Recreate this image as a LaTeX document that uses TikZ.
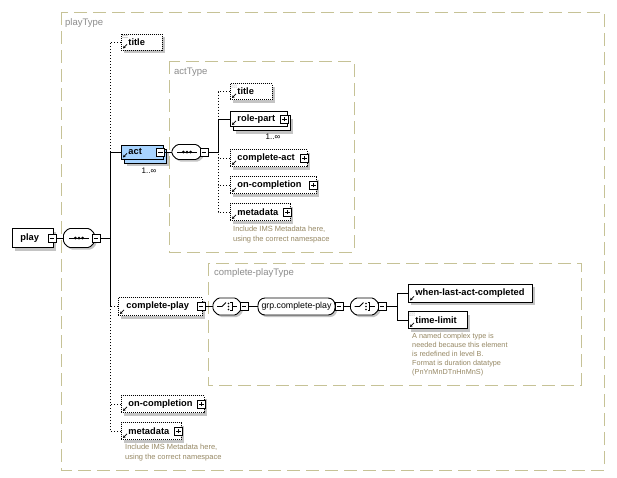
\documentclass[tikz,border=0pt]{standalone}
\usepackage{fontspec}
\setmainfont{Liberation Sans}
\usetikzlibrary{shadows,arrows.meta}
\definecolor{typeline}{RGB}{198,194,150}
\definecolor{typelab}{RGB}{140,140,140}
\definecolor{annotc}{RGB}{150,136,100}
\definecolor{shadowc}{RGB}{196,196,196}
\definecolor{actblue}{RGB}{168,212,255}
\newcommand\etxt[3]{\makebox[#1pt][l]{\hspace{#2pt}#3}}
\newcommand\minusat[3]{\node[pmbox] (#1) at (#2,#3) {};
  \draw[pmline] ([xshift=2pt]#1.west) -- ([xshift=-2pt]#1.east);}
\newcommand\plusat[3]{\node[pmbox] (#1) at (#2,#3) {};
  \draw[pmline] ([xshift=2pt]#1.west) -- ([xshift=-2pt]#1.east);
  \draw[pmline] ([yshift=2pt]#1.south) -- ([yshift=-2pt]#1.north);}
\newcommand\compshape[3]{\begin{scope}[shift={(#1.center)}]
  \fill[shadowc,rounded corners=1.5pt,shift={(2,2)}] ({-#2+5},{-#3}) -- ({#2-5},{-#3}) -- ({#2},{-#3+5}) -- ({#2},{#3-5})
     -- ({#2-5},{#3}) -- ({-#2+5},{#3}) -- ({-#2},{#3-5}) -- ({-#2},{-#3+5}) -- cycle;
  \draw[conn,fill=white,rounded corners=1.5pt] ({-#2+5},{-#3}) -- ({#2-5},{-#3}) -- ({#2},{-#3+5}) -- ({#2},{#3-5})
     -- ({#2-5},{#3}) -- ({-#2+5},{#3}) -- ({-#2},{#3-5}) -- ({-#2},{-#3+5}) -- cycle;
  \end{scope}}
\newcommand\seqsym[1]{\draw[conn] ([xshift=-10pt]#1.center) -- ([xshift=10pt]#1.center);
  \foreach \d in {-3.6,0,3.6} \fill ([xshift=\d pt]#1.center) circle (1.5pt);}
\newcommand\choicesym[1]{\begin{scope}[shift={(#1.center)}]
  \draw[conn] (-10,0) -- (-5,0) -- (-1,-4);
  \draw[conn] (3,-4) -- (5,-4) -- (5,4) -- (3,4);
  \draw[conn] (5,0) -- (10,0);
  \foreach \d in {-3,0,3} \fill (1.5,\d) circle (0.9pt);
  \end{scope}}
\newcommand\refmark[1]{\begin{scope}[shift={(#1.south west)}]
  \draw[line width=0.7pt,{Stealth[length=2.6pt,width=2.8pt]}-] (2,-2) -- (6,-6);
  \end{scope}}
\newcommand\simplemark[1]{\begin{scope}[shift={(#1.north west)}]
  \foreach \a in {2,4,6} \foreach \b in {2,4} \fill[black!60] (\a,\b) circle (0.45pt);
  \end{scope}}
\begin{document}
\begin{tikzpicture}[x=1pt,y=-1pt,
  typebox/.style={draw=typeline, line width=1pt, dash pattern=on 13pt off 6pt},
  typelabel/.style={text=typelab, font=\fontsize{9.5}{11}\selectfont, anchor=west, inner sep=0pt},
  elembase/.style={fill=white, inner sep=0pt, anchor=west, font=\bfseries\fontsize{9.3}{11}\selectfont},
  shd/.style={general shadow={fill=shadowc, shadow xshift=3pt, shadow yshift=-3pt}},
  req/.style={elembase, draw=black, line width=0.9pt},
  opt/.style={elembase, draw=black, line width=0.9pt, dash pattern=on 1pt off 1pt},
  pmbox/.style={draw=black, fill=white, minimum size=8pt, inner sep=0pt, line width=0.6pt},
  pmline/.style={line width=0.6pt},
  compbox/.style={rectangle, inner sep=0pt, draw=none},
  grpbox/.style={rectangle, rounded corners=7pt, draw=black, fill=white, inner sep=0pt, line width=0.9pt,
    font=\fontsize{8.8}{10}\selectfont, general shadow={fill=shadowc, shadow xshift=2pt, shadow yshift=-2pt}},
  conn/.style={line width=0.9pt},
  optconn/.style={line width=0.9pt, dash pattern=on 1.2pt off 1.8pt},
  annot/.style={text=annotc, font=\fontsize{7.5}{9.5}\selectfont, align=left, anchor=north west, inner sep=0pt},
  mult/.style={font=\fontsize{8}{9}\selectfont, inner sep=0pt}]
\fill[white] (0,0) rectangle (617,477);
\useasboundingbox (0,0) rectangle (617,477);

% type boxes
\draw[typebox] (61,12) rectangle (604,470);
\node[typelabel] (ptlab) at (65,23) {playType};
\draw[typebox] (169,61) rectangle (354,252);
\node[typelabel] (atlab) at (174,72) {actType};
\draw[typebox] (208,263) rectangle (581,385);
\node[typelabel] (cptlab) at (214,273) {complete-playType};

% root
\node[req,shd,minimum width=41pt,minimum height=19pt] (play) at (12,238) {\etxt{41}{8}{play}};
\minusat{playm}{52}{238}
\node[compbox,minimum width=31pt,minimum height=19pt] (seq1) at (79,238) {};
\compshape{seq1}{15.5}{9.5}
\seqsym{seq1}
\minusat{seq1m}{96}{238}
\coordinate (j1) at (110,238);

% playType children
\node[opt,shd,minimum width=41pt,minimum height=16pt] (title1) at (121,42) {\etxt{41}{7}{title}};
\refmark{title1}\simplemark{title1}
\node[req,shd,fill=actblue,minimum width=42pt,minimum height=14pt] (actbk) at (124,156) {};
\node[req,fill=actblue,minimum width=42pt,minimum height=14pt] (act) at (121,152) {\etxt{42}{7}{act}};
\refmark{act}
\minusat{actm}{160.5}{152}
\node[mult] (actmul) at (149,171) {1..∞};
\node[compbox,minimum width=30pt,minimum height=15pt] (seq2) at (187,152) {};
\compshape{seq2}{15}{7.5}
\seqsym{seq2}
\minusat{seq2m}{204}{152}
\coordinate (j2) at (218,152);

\node[opt,shd,minimum width=84pt,minimum height=18pt] (cplay) at (118,306.5) {\etxt{84}{8}{complete-play}};
\refmark{cplay}
\minusat{cplaym}{201}{306.5}
\node[opt,shd,minimum width=83pt,minimum height=17pt] (onc1) at (121,404) {\etxt{83}{7}{on-completion}};
\refmark{onc1}
\plusat{onc1p}{201.5}{404}
\node[opt,shd,minimum width=60pt,minimum height=17pt] (meta1) at (121,431) {\etxt{60}{7}{metadata}};
\refmark{meta1}
\plusat{meta1p}{178.5}{431}
\node[annot] (meta1note) at (125,444) {Include IMS Metadata here,\\using the correct namespace};

% actType children
\node[opt,shd,minimum width=42pt,minimum height=16pt] (title2) at (230,91.5) {\etxt{42}{7}{title}};
\refmark{title2}\simplemark{title2}
\node[req,shd,minimum width=57pt,minimum height=15pt] (rpbk) at (233,123) {};
\node[req,minimum width=57pt,minimum height=15pt] (rolepart) at (230,119) {\etxt{57}{7}{role-part}};
\refmark{rolepart}
\plusat{rolepartp}{284.5}{119}
\node[mult] (rpmul) at (273,137) {1..∞};
\node[opt,shd,minimum width=77pt,minimum height=17pt] (cact) at (230,158) {\etxt{77}{7}{complete-act}};
\refmark{cact}
\plusat{cactp}{304.5}{158}
\node[opt,shd,minimum width=86pt,minimum height=17pt] (onc2) at (230,185) {\etxt{86}{7}{on-completion}};
\refmark{onc2}
\plusat{onc2p}{313.5}{185}
\node[opt,shd,minimum width=60pt,minimum height=17pt] (meta2) at (230,212) {\etxt{60}{7}{metadata}};
\refmark{meta2}
\plusat{meta2p}{287.5}{212}
\node[annot] (meta2note) at (233,226) {Include IMS Metadata here,\\using the correct namespace};

% complete-playType
\node[compbox,minimum width=28pt,minimum height=17pt] (ch1) at (227,306.5) {};
\compshape{ch1}{14}{8.5}
\choicesym{ch1}
\minusat{ch1m}{244}{306.5}
\node[grpbox,minimum width=77pt,minimum height=17pt] (grp) at (296.5,306.5) {grp.complete-play};
\minusat{grpm}{339}{306.5}
\node[compbox,minimum width=28pt,minimum height=17pt] (ch2) at (364.5,306.5) {};
\compshape{ch2}{14}{8.5}
\choicesym{ch2}
\minusat{ch2m}{382}{306.5}
\coordinate (j3) at (397,306.5);
\node[req,shd,minimum width=124pt,minimum height=18pt] (wlac) at (408,293) {\etxt{124}{7}{when-last-act-completed}};
\refmark{wlac}
\node[req,shd,minimum width=59pt,minimum height=17pt] (tlim) at (408,320) {\etxt{59}{7}{time-limit}};
\refmark{tlim}\simplemark{tlim}
\node[annot,font=\fontsize{7.3}{8.8}\selectfont] (tlimnote) at (412,333.5) {A named complex type is\\needed because this element\\is redefined in level B.\\Format is duration datatype\\(PnYnMnDTnHnMnS)};

% connectors
\draw[conn] (playm.east) -- (seq1.west);
\draw[conn] (seq1m.east) -- (j1);
\draw[optconn] (title1.west) -| (j1);
\draw[optconn] (meta1.west) -| (j1);
\draw[optconn] (cplay.west) -| (j1);
\draw[optconn] (onc1.west) -| (j1);
\draw[conn] (act.west) -| (j1);

\draw[conn] (actm.east) -- (seq2.west);
\draw[conn] (seq2m.east) -- (j2);
\draw[optconn] (title2.west) -| (j2);
\draw[optconn] (meta2.west) -| (j2);
\draw[optconn] (cact.west) -| (j2);
\draw[optconn] (onc2.west) -| (j2);
\draw[conn] (rolepart.west) -| (j2);

\draw[conn] (cplaym.east) -- (ch1.west);
\draw[conn] (ch1m.east) -- (grp.west);
\draw[conn] (grpm.east) -- (ch2.west);
\draw[conn] (ch2m.east) -- (j3);
\draw[conn] (wlac.west) -| (j3);
\draw[conn] (tlim.west) -| (j3);
\end{tikzpicture}
\end{document}
